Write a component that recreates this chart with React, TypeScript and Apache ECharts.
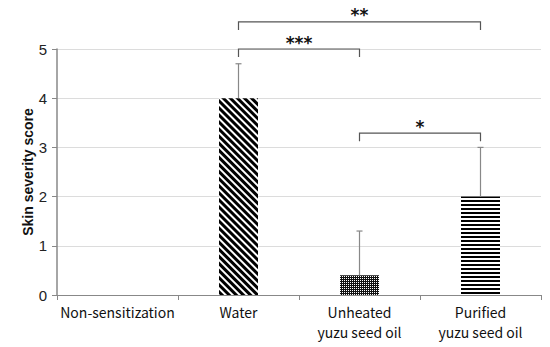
import React, { useEffect, useRef } from "react";
import * as echarts from "echarts";

const categories = [
  "Non-sensitization",
  "Water",
  "Unheated\nyuzu seed oil",
  "Purified\nyuzu seed oil",
];
const means = [0, 4.0, 0.4, 2.0];
const errors = [0, 0.7, 0.9, 1.0];
const yTicks = [0, 1, 2, 3, 4, 5];

const bracketFrom = [1, 1, 2];
const bracketTo = [2, 3, 3];
const bracketLevel = [5.0, 5.55, 3.29];
const bracketLabels = ["***", "**", "*"];

const decals: any[] = [
  null,
  {
    symbol: "rect",
    symbolSize: 1,
    color: "#000",
    dashArrayX: [1, 0],
    dashArrayY: [2.3, 2],
    rotation: Math.PI / 4,
  },
  {
    symbol: "rect",
    symbolSize: 1,
    color: "#fff",
    dashArrayX: [1, 1],
    dashArrayY: [1, 1],
    rotation: 0,
  },
  {
    symbol: "rect",
    symbolSize: 1,
    color: "#000",
    dashArrayX: [1, 0],
    dashArrayY: [1.6, 2],
    rotation: 0,
  },
];
const barColors = ["#fff", "#fff", "#111", "#fff"];

export default function App() {
  const ref = useRef<HTMLDivElement>(null);
  useEffect(() => {
    document.body.style.margin = "0";
    if (!ref.current) return;
    const chart = echarts.init(ref.current, null, { renderer: "svg" });
    const option: any = {
      animation: false,
      backgroundColor: "#fff",
      grid: { left: 57, right: 9, top: 49, bottom: 52 },
      xAxis: {
        type: "category",
        data: categories,
        boundaryGap: true,
        axisLine: { lineStyle: { color: "#888", width: 1 } },
        axisTick: { show: true, alignWithLabel: false, length: 5, lineStyle: { color: "#888" } },
        axisLabel: {
          color: "#111",
          fontFamily: "Noto Sans CJK JP",
          fontSize: 14,
          lineHeight: 20,
          margin: 7,
          interval: 0,
        },
      },
      yAxis: {
        type: "value",
        min: 0,
        max: 5,
        interval: 1,
        name: "Skin severity score",
        nameLocation: "middle",
        nameGap: 22,
        nameMoveOverlap: false,
        nameRotate: 90,
        nameTextStyle: {
          fontFamily: "Liberation Sans",
          fontWeight: "bold",
          fontSize: 14,
          color: "#111",
        },
        axisLine: { show: true, lineStyle: { color: "#888", width: 1.5 } },
        axisTick: { show: true, length: 5, lineStyle: { color: "#888" } },
        axisLabel: {
          color: "#222",
          fontFamily: "Liberation Sans",
          fontSize: 15,
          margin: 10,
          formatter: (v: number) => (yTicks.includes(v) ? String(v) : ""),
        },
        splitLine: { show: true, lineStyle: { color: "#dcdcdc", width: 1 } },
      },
      series: [
        {
          type: "bar",
          barWidth: 39,
          data: means.map((v, i) => ({
            value: v,
            itemStyle: decals[i]
              ? { color: barColors[i], decal: decals[i] }
              : { color: barColors[i] },
          })),
          z: 2,
        },
        {
          type: "custom",
          z: 3,
          data: means.map((m, i) => [i, m, errors[i]]),
          renderItem: (params: any, api: any) => {
            const x = api.value(0);
            const m = api.value(1);
            const e = api.value(2);
            if (!e) return null;
            const base = api.coord([x, m]);
            const top = api.coord([x, m + e]);
            const st = { stroke: "#888", lineWidth: 1.2 };
            return {
              type: "group",
              children: [
                { type: "line", shape: { x1: base[0], y1: base[1], x2: top[0], y2: top[1] }, style: st },
                { type: "line", shape: { x1: top[0] - 3, y1: top[1], x2: top[0] + 3, y2: top[1] }, style: st },
              ],
            };
          },
        },
        {
          type: "custom",
          z: 4,
          clip: false,
          data: bracketFrom.map((f, i) => [f, bracketTo[i], bracketLevel[i]]),
          renderItem: (params: any, api: any) => {
            const p1 = api.coord([api.value(0), api.value(2)]);
            const p2 = api.coord([api.value(1), api.value(2)]);
            const drop = 8;
            return {
              type: "group",
              children: [
                {
                  type: "polyline",
                  shape: {
                    points: [
                      [p1[0], p1[1] + drop],
                      [p1[0], p1[1]],
                      [p2[0], p2[1]],
                      [p2[0], p2[1] + drop],
                    ],
                  },
                  style: { stroke: "#555", lineWidth: 1.2, fill: null },
                },
                {
                  type: "text",
                  x: (p1[0] + p2[0]) / 2,
                  y: p1[1] + 2,
                  style: {
                    text: bracketLabels[params.dataIndex],
                    fontFamily: "DejaVu Sans",
                    fontWeight: "bold",
                    fontSize: 17,
                    fill: "#111",
                    align: "center",
                    verticalAlign: "bottom",
                  },
                },
              ],
            };
          },
        },
      ],
    };
    chart.setOption(option);
    return () => chart.dispose();
  }, []);
  return <div ref={ref} style={{ width: 550, height: 347 }} />;
}
